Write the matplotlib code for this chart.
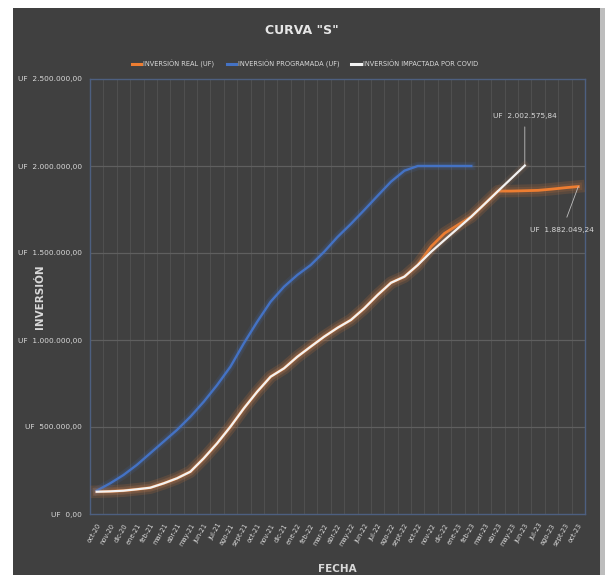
import matplotlib
matplotlib.use("Agg")
import matplotlib.pyplot as plt
import matplotlib.patheffects as pe
from matplotlib.patches import Rectangle
import numpy as np

months = ["oct-20", "nov-20", "dic-20", "ene-21", "feb-21", "mar-21", "abr-21", "may-21",
          "jun-21", "jul-21", "ago-21", "sept-21", "oct-21", "nov-21", "dic-21", "ene-22",
          "feb-22", "mar-22", "abr-22", "may-22", "jun-22", "jul-22", "ago-22", "sept-22",
          "oct-22", "nov-22", "dic-22", "ene-23", "feb-23", "mar-23", "abr-23", "may-23",
          "jun-23", "jul-23", "ago-23", "sept-23", "oct-23"]

programada = [134000, 176000, 224000, 282000, 349000, 416000, 483000, 559000, 645000,
              741000, 847000, 981000, 1105000, 1220000, 1306000, 1374000, 1431000,
              1507000, 1592000, 1667000, 1747000, 1829000, 1910000, 1973000, 2000000,
              2000000, 2000000, 2000000, 2000000]

impactada = [128000, 130000, 134000, 142000, 151000, 176000, 205000, 243000, 320000,
             406000, 502000, 607000, 703000, 789000, 837000, 904000, 962000, 1019000,
             1070000, 1115000, 1182000, 1259000, 1329000, 1364000, 1431000, 1507000,
             1575000, 1642000, 1709000, 1782000, 1856000, 1929000, 2002575.84]

real = [128000, 130000, 134000, 142000, 151000, 176000, 205000, 243000, 320000,
        406000, 502000, 607000, 703000, 789000, 837000, 904000, 962000, 1019000,
        1070000, 1115000, 1182000, 1259000, 1329000, 1364000, 1431000, 1537000,
        1613000, 1661000, 1709000, 1782000, 1856000, 1856000, 1858000, 1860000,
        1867000, 1875000, 1882049.24]

yticks = [0, 500000, 1000000, 1500000, 2000000, 2500000]


def fmt_uf(v):
    s = f"{v:,.2f}"
    s = s.replace(",", "X").replace(".", ",").replace("X", ".")
    return "UF  " + s


plt.rcParams["font.family"] = ["DejaVu Sans"]

bg = "#404040"
fig = plt.figure(figsize=(6.05, 5.75), dpi=100, facecolor="white")
fig.patches.append(Rectangle((13 / 605, 0), (600 - 13) / 605, 1 - 8 / 575,
                             transform=fig.transFigure, facecolor=bg,
                             edgecolor="none", zorder=-10))
fig.patches.append(Rectangle((600 / 605, 0), 5 / 605, 1 - 8 / 575,
                             transform=fig.transFigure, facecolor="#bdbdbd",
                             edgecolor="none", zorder=-10))

ax = fig.add_axes([90 / 605, 1 - 514 / 575, 495 / 605, 435 / 575])
ax.set_facecolor(bg)
ax.patch.set_alpha(0)

n = len(months)
x = np.arange(n)
ax.set_xlim(-0.5, n - 0.5)
ax.set_ylim(0, 2500000)

# grid
for k in range(n + 1):
    ax.axvline(k - 0.5, color="#535353", lw=0.6, zorder=0)
for yv in yticks[1:-1]:
    ax.axhline(yv, color="#5f5f5f", lw=0.9, zorder=0)

for sp in ax.spines.values():
    sp.set_color("#4d5f80")
    sp.set_linewidth(1.0)


def glow(color, alpha=0.25, w=7):
    return [pe.Stroke(linewidth=w, foreground=color, alpha=alpha),
            pe.Stroke(linewidth=w * 0.6, foreground=color, alpha=alpha),
            pe.Normal()]


ax.plot(x[:len(real)], real, color="#ed7d31", lw=2.0, zorder=3,
        path_effects=glow("#c0703a", 0.2, 9), label="INVERSIÓN REAL (UF)")
ax.plot(x[:len(programada)], programada, color="#4472c4", lw=1.7, zorder=4,
        path_effects=glow("#4472c4", 0.12, 6), label="INVERSIÓN PROGRAMADA (UF)")
ax.plot(x[:len(impactada)], impactada, color="#f2f2f2", lw=1.6, zorder=5,
        path_effects=glow("#b08060", 0.12, 6), label="INVERSIÓN IMPACTADA POR COVID")

ax.set_yticks(yticks)
ax.set_yticklabels([fmt_uf(v) for v in yticks], fontsize=5.3, color="#d9d9d9")
ax.set_xticks(x)
ax.set_xticklabels(months, fontsize=4.8, color="#d9d9d9", rotation=60,
                   ha="right", rotation_mode="anchor")
ax.tick_params(axis="both", length=0, pad=6)

# data labels
ie = len(impactada) - 1
ax.annotate(fmt_uf(impactada[-1]), xy=(ie, impactada[-1]),
            xytext=(ie, 2290000), ha="center", va="center", fontsize=5.3,
            color="#d9d9d9",
            arrowprops=dict(arrowstyle="-", color="#bfbfbf", lw=0.6,
                            shrinkA=4, shrinkB=0))
ir = len(real) - 1
ax.annotate(fmt_uf(real[-1]), xy=(ir, real[-1]),
            xytext=(ir - 1.2, 1635000), ha="center", va="center", fontsize=5.3,
            color="#d9d9d9",
            arrowprops=dict(arrowstyle="-", color="#bfbfbf", lw=0.6,
                            shrinkA=5, shrinkB=0))

ax.set_ylabel("INVERSIÓN", fontsize=7.5, color="#d9d9d9", fontweight="bold")
ax.yaxis.set_label_coords(-0.09, 0.5)
ax.set_xlabel("FECHA", fontsize=7.5, color="#d9d9d9", fontweight="bold")
ax.xaxis.set_label_coords(0.5, -0.115)

fig.text(302 / 605, 1 - 30 / 575, 'CURVA "S"', ha="center", va="center",
         fontsize=9, fontweight="bold", color="#e6e6e6")

leg = fig.legend(loc="center", bbox_to_anchor=(305 / 605, 1 - 64 / 575), ncol=3,
                 frameon=False, fontsize=4.8, handlelength=1.4, columnspacing=1.8,
                 handletextpad=0.3)
for t in leg.get_texts():
    t.set_color("#d9d9d9")
for h in leg.legend_handles:
    h.set_path_effects([])
    h.set_linewidth(2.2)

fig.savefig("out.png", dpi=100, facecolor="white")
